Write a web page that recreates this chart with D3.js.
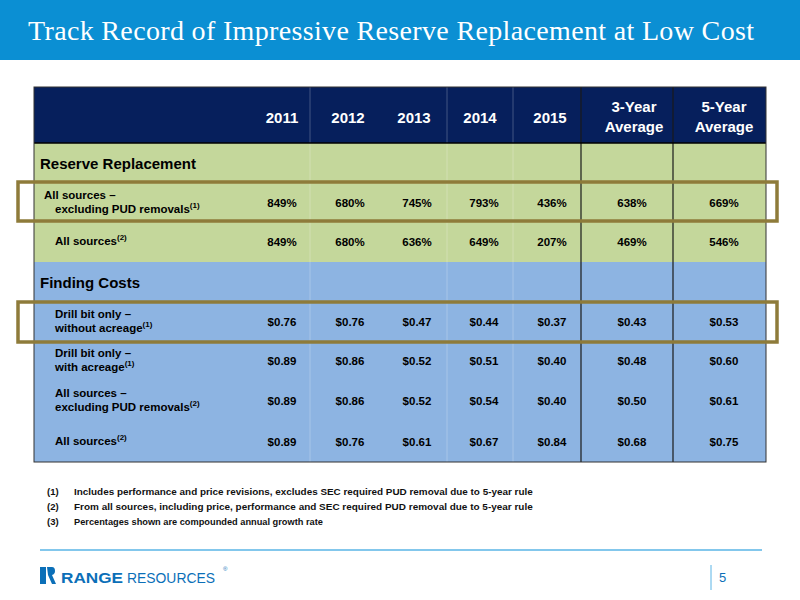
<!DOCTYPE html>
<html><head><meta charset="utf-8">
<script src="https://cdn.jsdelivr.net/npm/d3@7"></script>
<style>body{margin:0;background:#fff}</style></head>
<body><svg id="c" width="800" height="600"></svg>
<script>
const headers = ["2011","2012","2013","2014","2015","3-Year|Average","5-Year|Average"];
const rrLabels = [["All sources –","excluding PUD removals","(1)"],["All sources","","(2)"]];
const rrValues = [["849%","680%","745%","793%","436%","638%","669%"],["849%","680%","636%","649%","207%","469%","546%"]];
const fcLabels = [["Drill bit only –","without acreage","(1)"],["Drill bit only –","with acreage","(1)"],["All sources –","excluding PUD removals","(2)"],["All sources","","(2)"]];
const fcValues = [["$0.76","$0.76","$0.47","$0.44","$0.37","$0.43","$0.53"],["$0.89","$0.86","$0.52","$0.51","$0.40","$0.48","$0.60"],["$0.89","$0.86","$0.52","$0.54","$0.40","$0.50","$0.61"],["$0.89","$0.76","$0.61","$0.67","$0.84","$0.68","$0.75"]];
const footnotes = ["Includes performance and price revisions, excludes SEC required PUD removal due to 5-year rule","From all sources, including price, performance and SEC required PUD removal due to 5-year rule","Percentages shown are compounded annual growth rate"];

const svg = d3.select("#c");
const F = "Liberation Sans, Arial, sans-serif";
svg.append("rect").attr("width",800).attr("height",60).attr("fill","#0b8fd3");
svg.append("text").attr("x",28).attr("y",40).attr("fill","#fff").attr("font-family","Liberation Serif, Times New Roman, serif").attr("font-size",28).attr("textLength",726).attr("lengthAdjust","spacing").text("Track Record of Impressive Reserve Replacement at Low Cost");

const L=34,R=766;
const colX = [282,350,417,484,552,632,724];
const hdrX = [282,348,414,480,550,634,724];
const rows=[];
rows.push({y0:87,y1:143,t:"h"});
rows.push({y0:143,y1:183,t:"sec",fill:"#c4d79b",label:"Reserve Replacement"});
const rrB=[183,220,262];
rrLabels.forEach((l,i)=>rows.push({y0:rrB[i],y1:rrB[i+1],t:"d",fill:"#c4d79b",label:l,vals:rrValues[i],first:i===0}));
rows.push({y0:262,y1:302,t:"sec",fill:"#8db4e2",label:"Finding Costs"});
const fcB=[302,340,380,420,462];
fcLabels.forEach((l,i)=>rows.push({y0:fcB[i],y1:fcB[i+1],t:"d",fill:"#8db4e2",label:l,vals:fcValues[i]}));

rows.forEach(r=>{
  svg.append("rect").attr("x",L).attr("y",r.y0).attr("width",R-L).attr("height",r.y1-r.y0).attr("fill",r.t==="h"?"#061f5c":r.fill);
});
[310,447,513].forEach(x=>svg.append("line").attr("x1",x).attr("x2",x).attr("y1",87).attr("y2",462).attr("stroke","#ffffff").attr("stroke-width",0.8).attr("opacity",0.3));
[581,673].forEach(x=>svg.append("line").attr("x1",x).attr("x2",x).attr("y1",87).attr("y2",462).attr("stroke","#1a1a1a").attr("stroke-width",1.2));
svg.append("line").attr("x1",L).attr("x2",R).attr("y1",143).attr("y2",143).attr("stroke","#000").attr("stroke-width",1.5);
svg.append("rect").attr("x",L).attr("y",87).attr("width",R-L).attr("height",375).attr("fill","none").attr("stroke","#333").attr("stroke-width",1);

headers.forEach((h,i)=>{
  const parts=h.split("|");
  const t=svg.append("text").attr("font-family",F).attr("font-weight","bold").attr("font-size",15).attr("fill","#fff").attr("text-anchor","middle");
  if(parts.length===1) t.attr("x",hdrX[i]).attr("y",123).text(h);
  else parts.forEach((p,j)=>t.append("tspan").attr("x",hdrX[i]).attr("y",112+j*20).text(p));
});

rows.forEach(r=>{
  if(r.t==="sec"){
    svg.append("text").attr("x",40).attr("y",(r.y0+r.y1)/2+6).attr("font-family",F).attr("font-weight","bold").attr("font-size",15).attr("fill","#000").text(r.label);
  } else if(r.t==="d"){
    const mid=(r.y0+r.y1)/2;
    const [a,b,sup]=r.label;
    const lx = r.first ? 44 : 55;
    const g=svg.append("text").attr("font-family",F).attr("font-weight","bold").attr("font-size",11.5).attr("fill","#000");
    if(b===""){
      g.attr("x",55).attr("y",mid+4).text(a);
      g.append("tspan").attr("font-size",8).attr("dy",-5).text(sup);
    } else {
      g.append("tspan").attr("x",lx).attr("y",mid-3).text(a);
      g.append("tspan").attr("x",55).attr("y",mid+11).text(b);
      g.append("tspan").attr("font-size",8).attr("dy",-5).text(sup);
    }
    r.vals.forEach((v,i)=>svg.append("text").attr("x",colX[i]).attr("y",mid+5).attr("text-anchor","middle").attr("font-family",F).attr("font-weight","bold").attr("font-size",11.5).attr("fill","#000").text(v));
  }
});

[[182,221],[302,342]].forEach(([a,b])=>svg.append("rect").attr("x",18).attr("y",a).attr("width",759).attr("height",b-a).attr("fill","none").attr("stroke","#8e7b3a").attr("stroke-width",3.5));

footnotes.forEach((f,i)=>{
  const y=495+i*15;
  svg.append("text").attr("x",47).attr("y",y).attr("font-family",F).attr("font-weight","bold").attr("font-size",9.5).attr("fill","#111").text(`(${i+1})`);
  svg.append("text").attr("x",74).attr("y",y).attr("font-family",F).attr("font-weight","bold").attr("font-size",9.5).attr("fill","#111").attr("textLength",f.length*4.88).attr("lengthAdjust","spacingAndGlyphs").text(f);
});

svg.append("line").attr("x1",40).attr("x2",762).attr("y1",550).attr("y2",550).attr("stroke","#5ab4e6").attr("stroke-width",1.5);
svg.append("line").attr("x1",711).attr("x2",711).attr("y1",565).attr("y2",590).attr("stroke","#5ab4e6").attr("stroke-width",1);
svg.append("text").attr("x",719).attr("y",582).attr("font-family",F).attr("font-size",13).attr("fill","#0b6fb8").text("5");
const lg=svg.append("g").attr("transform","translate(40,567)");
lg.append("rect").attr("width",6).attr("height",17).attr("fill","#0b6fb8");
lg.append("path").attr("d","M7,0 h5 q3,0 3,4 q0,3 -3,4 l4,9 h-4 l-4,-9 z").attr("fill","#0b6fb8");
svg.append("text").attr("x",61).attr("y",583).attr("font-family",F).attr("font-weight","bold").attr("font-size",15).attr("fill","#0b6fb8").attr("textLength",62).attr("lengthAdjust","spacingAndGlyphs").text("RANGE");
svg.append("text").attr("x",127).attr("y",583).attr("font-family",F).attr("font-size",15).attr("fill","#0b6fb8").attr("textLength",88).attr("lengthAdjust","spacingAndGlyphs").text("RESOURCES");
svg.append("text").attr("x",223).attr("y",571).attr("font-family",F).attr("font-size",6).attr("fill","#0b6fb8").text("®");
</script></body></html>
